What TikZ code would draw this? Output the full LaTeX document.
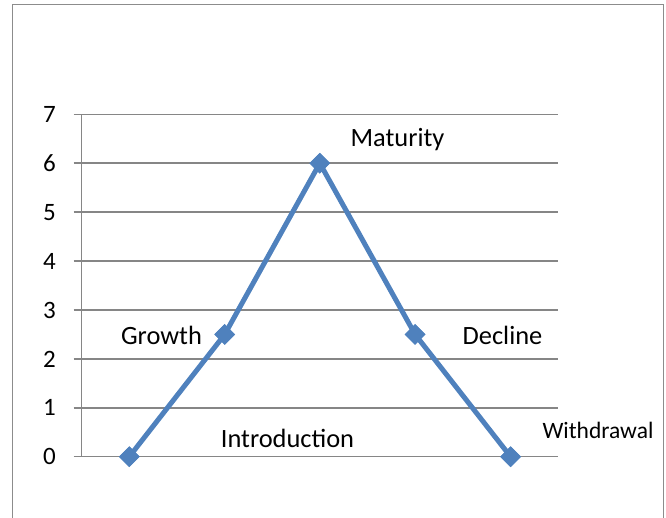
\documentclass[tikz,border=0pt]{standalone}
\usepackage{fontspec}
\setmainfont{Carlito}
\usetikzlibrary{shapes.geometric}
\definecolor{gridgray}{HTML}{868686}
\definecolor{framegray}{HTML}{8C8C8C}
\definecolor{serieblue}{HTML}{4F81BD}
\tikzset{
  gridline/.style={draw=gridgray, line width=1.5pt},
  frameline/.style={draw=framegray, line width=1.5pt},
  seriesline/.style={draw=serieblue, line width=5pt, line join=round},
  marker/.style={diamond, fill=serieblue, inner sep=0pt, minimum size=20.5pt},
  axislabel/.style={anchor=base east, inner sep=0pt, font=\fontsize{25}{30}\selectfont},
  stagelabel/.style={anchor=base, inner sep=0pt, font=\fontsize{26.4}{31}\selectfont},
  smalllabel/.style={anchor=base, inner sep=0pt, font=\fontsize{23.5}{28}\selectfont}
}
\begin{document}
\begin{tikzpicture}[x=1pt,y=-1pt]
\useasboundingbox (0,0) rectangle (666,518);
% frame
\draw[frameline] (12.5,540) -- (12.5,4.5) -- (663.5,4.5) -- (663.5,540);
% gridlines and ticks
\foreach \v in {0,...,7} {
  \draw[gridline] (73.5,{456.7-48.91*\v}) -- (558,{456.7-48.91*\v});
  \node[axislabel] (yl\v) at (56,{456.7-48.91*\v+8.2}) {\v};
}
\draw[gridline] (81.7,114.3) -- (81.7,456.7);
% data points
\node[marker] (p0) at (129.3,456.7) {};
\node[marker] (p1) at (224.7,{456.7-48.91*2.5}) {};
\node[marker] (p2) at (319.8,{456.7-48.91*6}) {};
\node[marker] (p3) at (415.1,{456.7-48.91*2.5}) {};
\node[marker] (p4) at (510.6,456.7) {};
\draw[seriesline] (p0.center) -- (p1.center) -- (p2.center) -- (p3.center) -- (p4.center);
\foreach \p in {p0,p1,p2,p3,p4} { \fill[serieblue] (\p.north) -- (\p.east) -- (\p.south) -- (\p.west) -- cycle; }
% labels
\node[stagelabel] (maturity) at (397.5,146.5) {Maturity};
\node[stagelabel] (growth) at (161.5,344) {Growth};
\node[stagelabel] (decline) at (502.5,344) {Decline};
\node[stagelabel] (intro) at (287.5,447) {Introduction};
\node[smalllabel] (withdrawal) at (598,438) {Withdrawal};
\end{tikzpicture}
\end{document}
